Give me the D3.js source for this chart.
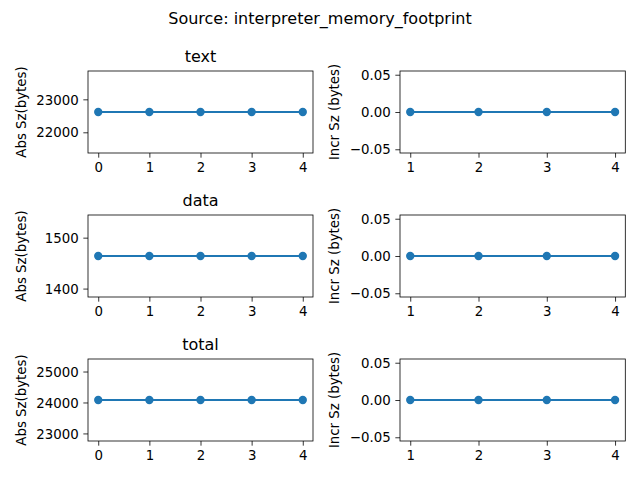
<!DOCTYPE html>
<html><head><meta charset="utf-8">
<script src="https://cdn.jsdelivr.net/npm/d3@7"></script>
<style>body{margin:0;background:#fff}svg{display:block}text{font-family:"DejaVu Sans",sans-serif;fill:#000}</style>
</head><body>
<script>
const suptitle = "Source: interpreter_memory_footprint";
const sections = ["text", "data", "total"];
const absX = [0, 1, 2, 3, 4];
const textAbs = [22616, 22616, 22616, 22616, 22616];
const dataAbs = [1464, 1464, 1464, 1464, 1464];
const totalAbs = [24080, 24080, 24080, 24080, 24080];
const incrX = [1, 2, 3, 4];
const textIncr = [0, 0, 0, 0];
const dataIncr = [0, 0, 0, 0];
const totalIncr = [0, 0, 0, 0];
const absTicks = [[22000, 23000], [1400, 1500], [23000, 24000, 25000]];
const incrTicks = [-0.05, 0.00, 0.05];
const absLabel = "Abs Sz(bytes)";
const incrLabel = "Incr Sz (bytes)";

const absSeries = [textAbs, dataAbs, totalAbs];
const incrSeries = [textIncr, dataIncr, totalIncr];

const W = 640, H = 480, color = "#1f77b4";
const svg = d3.select("body").append("svg").attr("width", W).attr("height", H);
svg.append("text").attr("x", 320).attr("y", 24).attr("text-anchor", "middle")
  .attr("font-size", "16px").text(suptitle);

const rowTops = [71, 215, 359], rowH = 82;
const cols = [{x0: 88, x1: 313}, {x0: 400, x1: 625.3}];

function panel(xs, ys, col, top, yTicks, yFmt, title, ylabel, ylabelX, singular) {
  const g = svg.append("g");
  const xmin = d3.min(xs), xmax = d3.max(xs), xr = xmax - xmin;
  const x = d3.scaleLinear().domain([xmin - 0.05 * xr, xmax + 0.05 * xr]).range([col.x0, col.x1]);
  let ymin = d3.min(ys), ymax = d3.max(ys);
  if (ymin === ymax) {
    if (ymin === 0) { ymin = -0.05; ymax = 0.05; }
    else { ymin = ymin * 0.95; ymax = ymax * 1.05; }
  }
  const yr = ymax - ymin;
  const y = d3.scaleLinear().domain([ymin - 0.05 * yr, ymax + 0.05 * yr]).range([top + rowH, top]);
  const xAxis = d3.axisBottom(x).tickValues(xs).tickFormat(d3.format("d")).tickSizeInner(4.67).tickSizeOuter(0).tickPadding(4.67);
  const yAxis = d3.axisLeft(y).tickValues(yTicks).tickFormat(yFmt).tickSizeInner(4.67).tickSizeOuter(0).tickPadding(4.67);
  const gx = g.append("g").attr("transform", `translate(0,${top + rowH})`).call(xAxis);
  const gy = g.append("g").attr("transform", `translate(${col.x0},0)`).call(yAxis);
  [gx, gy].forEach(a => {
    a.select(".domain").remove();
    a.selectAll("text").attr("font-size", "13.33px").attr("font-family", "DejaVu Sans").attr("fill", "#000");
    a.selectAll("line").attr("stroke", "#000").attr("stroke-width", 0.8);
  });
  gy.selectAll("text").attr("dy", "0.35em");
  g.append("rect").attr("x", col.x0).attr("y", top).attr("width", col.x1 - col.x0).attr("height", rowH)
    .attr("fill", "none").attr("stroke", "#000").attr("stroke-width", 0.8);
  const pts = xs.map((d, i) => [d, ys[i]]);
  g.append("path").datum(pts).attr("fill", "none").attr("stroke", color).attr("stroke-width", 2.08)
    .attr("d", d3.line().x(d => x(d[0])).y(d => y(d[1])));
  g.selectAll("circle.m").data(pts).enter().append("circle")
    .attr("cx", d => x(d[0])).attr("cy", d => y(d[1])).attr("r", 4.17).attr("fill", color);
  if (title) g.append("text").attr("x", (col.x0 + col.x1) / 2).attr("y", top - 9)
    .attr("text-anchor", "middle").attr("font-size", "16px").text(title);
  g.append("text").attr("transform", `translate(${ylabelX},${top + rowH / 2}) rotate(-90)`)
    .attr("text-anchor", "middle").attr("font-size", "13.33px").text(ylabel);
}

sections.forEach((s, i) => {
  panel(absX, absSeries[i], cols[0], rowTops[i], absTicks[i], d3.format("d"), s, absLabel, 26);
  panel(incrX, incrSeries[i], cols[1], rowTops[i], incrTicks, d3.format(".2f"), null, incrLabel, 339);
});
</script>
</body></html>
